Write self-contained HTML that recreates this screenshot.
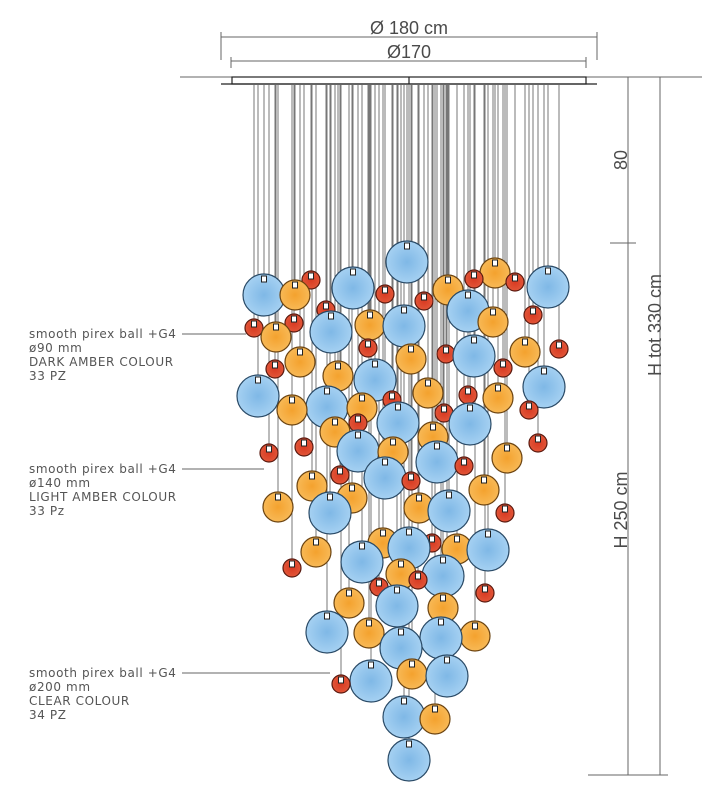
<!DOCTYPE html>
<html><head><meta charset="utf-8"><style>
html,body{margin:0;padding:0;background:#fff;width:702px;height:800px;overflow:hidden}
svg{display:block}
.lab{font-family:"DejaVu Sans","Liberation Sans",sans-serif;font-size:12px;fill:#555;letter-spacing:0.6px}
.dim{font-family:"Liberation Sans",sans-serif;fill:#4a4a4a}
</style></head><body>
<svg id="s" width="702" height="800" viewBox="0 0 702 800" xmlns="http://www.w3.org/2000/svg">
<defs>
<radialGradient id="gb" cx="50%" cy="50%" r="55%"><stop offset="0" stop-color="#7fb8e6"/><stop offset="1" stop-color="#a9d3f3"/></radialGradient>
<radialGradient id="go" cx="50%" cy="50%" r="55%"><stop offset="0" stop-color="#f4a22e"/><stop offset="1" stop-color="#f8bb5a"/></radialGradient>
<radialGradient id="gr" cx="50%" cy="50%" r="55%"><stop offset="0" stop-color="#d83a22"/><stop offset="1" stop-color="#e2583a"/></radialGradient>
</defs>
<g stroke="#666" stroke-width="1" fill="none">
<line x1="180" y1="77" x2="702" y2="77"/>
<line x1="221" y1="37" x2="597" y2="37"/><line x1="221" y1="32" x2="221" y2="60"/><line x1="597" y1="32" x2="597" y2="60"/>
<line x1="231" y1="61" x2="586" y2="61"/><line x1="231" y1="57" x2="231" y2="68"/><line x1="586" y1="57" x2="586" y2="68"/>
<line x1="628" y1="77" x2="628" y2="775"/><line x1="660" y1="77" x2="660" y2="775"/>
<line x1="610" y1="243" x2="636" y2="243"/><line x1="588" y1="775" x2="668" y2="775"/>
<line x1="182" y1="334" x2="246" y2="334"/><line x1="182" y1="469" x2="264" y2="469"/><line x1="182" y1="673" x2="330" y2="673"/>
</g>
<g stroke="#222" stroke-width="1.2" fill="none">
<rect x="232" y="77" width="354" height="7"/><line x1="221" y1="84" x2="597" y2="84"/><line x1="409" y1="77" x2="409" y2="84"/>
</g>
<text class="dim" x="409" y="34" font-size="18" text-anchor="middle">Ø 180 cm</text>
<text class="dim" x="409" y="58" font-size="18" text-anchor="middle">Ø170</text>
<text class="dim" transform="translate(627,160) rotate(-90)" font-size="18" text-anchor="middle">80</text>
<text class="dim" transform="translate(627,510) rotate(-90)" font-size="18" text-anchor="middle">H 250 cm</text>
<text class="dim" transform="translate(661,325) rotate(-90)" font-size="18" text-anchor="middle">H tot 330 cm</text>
<text class="lab" x="29" y="338">smooth pirex ball +G4</text>
<text class="lab" x="29" y="352">ø90 mm</text>
<text class="lab" x="29" y="366">DARK AMBER COLOUR</text>
<text class="lab" x="29" y="380">33 PZ</text>
<text class="lab" x="29" y="473">smooth pirex ball +G4</text>
<text class="lab" x="29" y="487">ø140 mm</text>
<text class="lab" x="29" y="501">LIGHT AMBER COLOUR</text>
<text class="lab" x="29" y="515">33 Pz</text>
<text class="lab" x="29" y="677">smooth pirex ball +G4</text>
<text class="lab" x="29" y="691">ø200 mm</text>
<text class="lab" x="29" y="705">CLEAR COLOUR</text>
<text class="lab" x="29" y="719">34 PZ</text>
<g id="w"></g><g id="b"></g>
</svg>
<script>
var B=[[264,295],[353,288],[407,262],[548,287],[468,311],[331,332],[404,326],[474,356],[258,396],[375,380],[327,407],[544,387],[398,423],[470,424],[358,451],[437,462],[385,478],[330,513],[449,511],[488,550],[362,562],[409,548],[443,576],[397,606],[327,632],[441,638],[401,648],[447,676],[371,681],[404,717],[409,760]];
var O=[[295,295],[448,290],[495,273],[370,325],[493,322],[276,337],[300,362],[525,352],[411,359],[338,376],[428,393],[292,410],[498,398],[362,408],[335,432],[433,437],[507,458],[393,452],[312,486],[484,490],[278,507],[419,508],[352,498],[316,552],[383,543],[457,549],[401,574],[349,603],[443,608],[369,633],[475,636],[412,674],[435,719]];
var R=[[311,280],[385,294],[474,279],[515,282],[424,301],[254,328],[294,323],[326,310],[533,315],[446,354],[368,348],[559,349],[275,369],[503,368],[468,395],[392,400],[358,423],[529,410],[444,413],[304,447],[269,453],[538,443],[464,466],[340,475],[411,481],[505,513],[432,543],[292,568],[379,587],[418,580],[485,593],[341,684]];
var ns="http://www.w3.org/2000/svg",w=document.getElementById('w'),b=document.getElementById('b');
function el(p,t,a){var e=document.createElementNS(ns,t);for(var k in a)e.setAttribute(k,a[k]);p.appendChild(e);return e;}
var all=[];B.forEach(function(p){all.push([p[0],p[1],21,'url(#gb)','#2a4a66'])});
O.forEach(function(p){all.push([p[0],p[1],15,'url(#go)','#6b4310'])});
R.forEach(function(p){all.push([p[0],p[1],9,'url(#gr)','#5a1a10'])});
all.forEach(function(c){el(w,'line',{x1:c[0],y1:85,x2:c[0],y2:c[1]-c[2],stroke:'#777','stroke-width':1});});
all.sort(function(a,b){return a[1]-b[1]});
all.forEach(function(c){el(b,'circle',{cx:c[0],cy:c[1],r:c[2],fill:c[3],stroke:c[4],'stroke-width':1.2});
el(b,'rect',{x:c[0]-2.5,y:c[1]-c[2]+2,width:5,height:6,fill:'#fff',stroke:'#222','stroke-width':1});});
</script>
</body></html>
